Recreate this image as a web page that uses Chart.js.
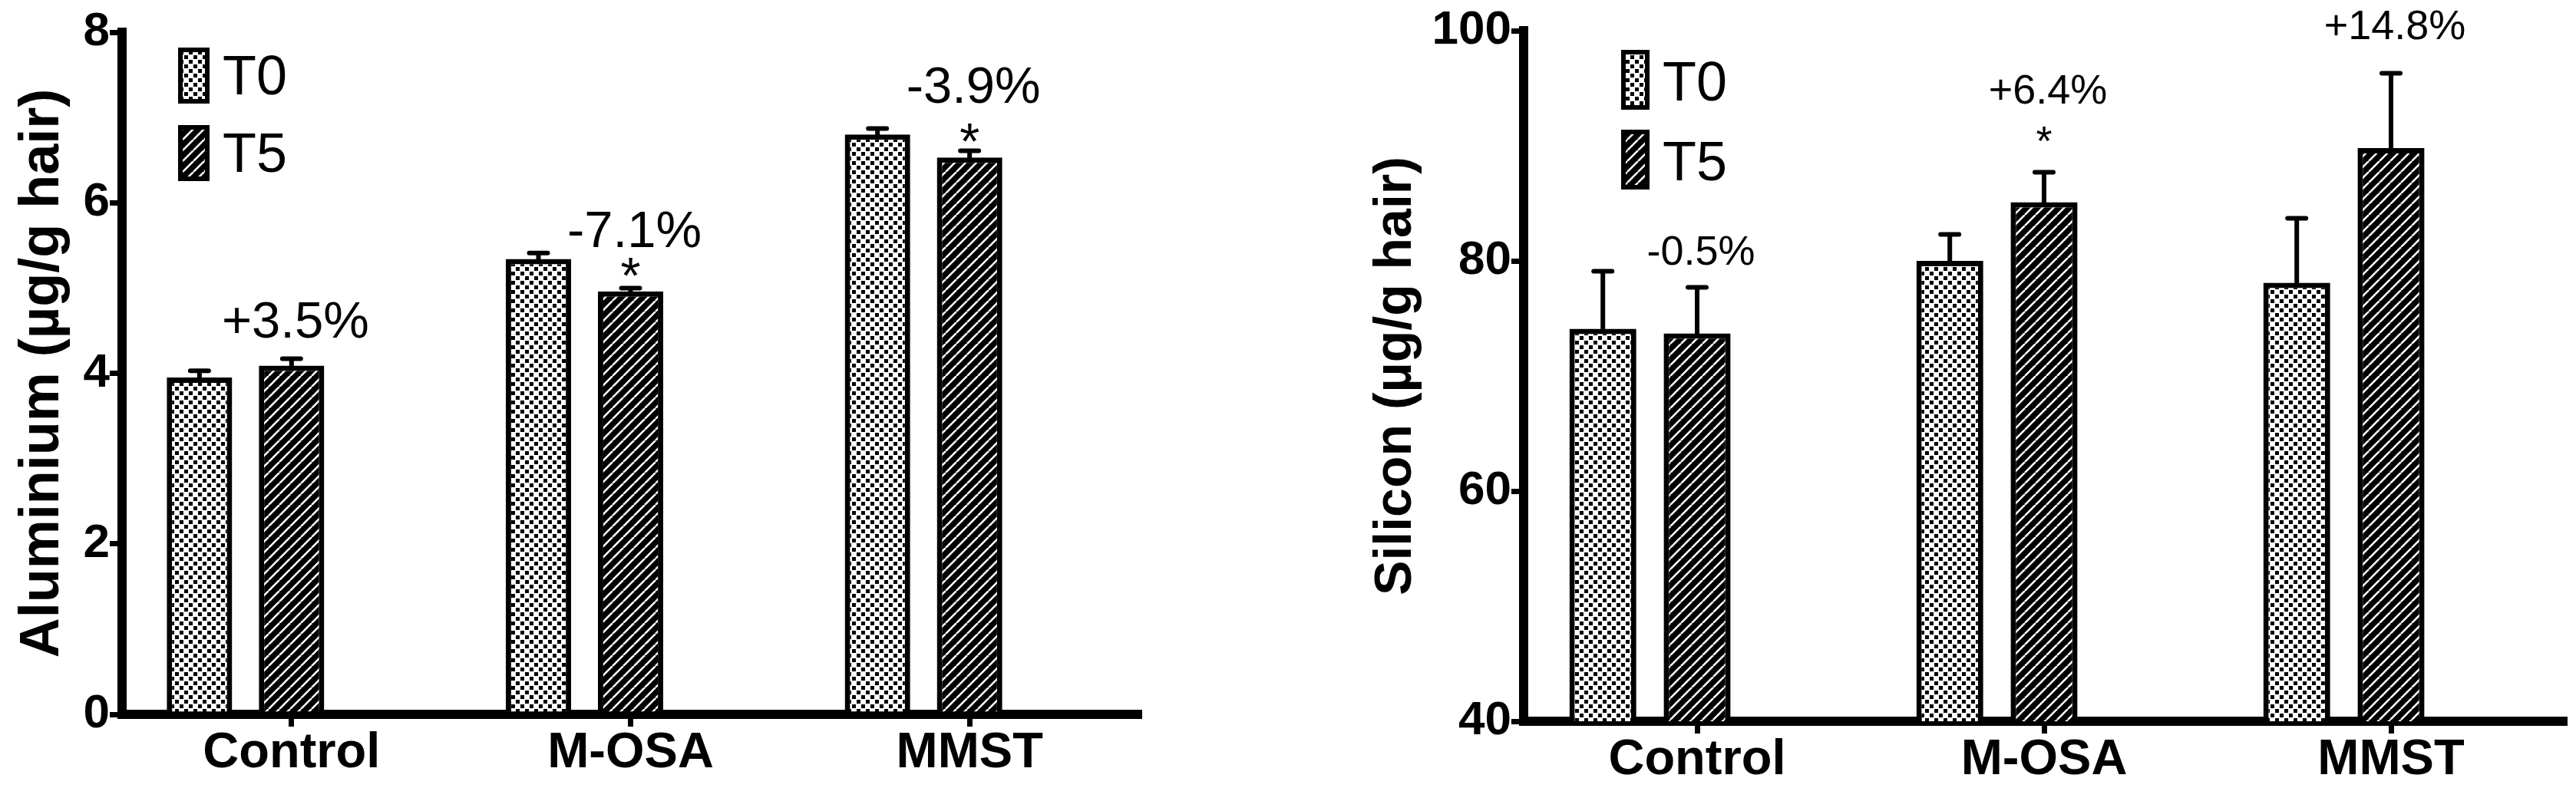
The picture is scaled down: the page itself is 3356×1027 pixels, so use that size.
<!DOCTYPE html>
<html>
<head>
<meta charset="utf-8">
<script src="https://cdn.jsdelivr.net/npm/chart.js@4.4.1/dist/chart.umd.min.js"></script>
<style>
  html, body { margin: 0; padding: 0; background: #fff; }
  #wrap { display: flex; width: 3356px; height: 1027px; }
  canvas { display: block; }
</style>
</head>
<body>
<div id="wrap">
  <canvas id="alChart" width="1560" height="1027"></canvas>
  <canvas id="siChart" width="1796" height="1027"></canvas>
</div>
<script>
const FONT = "'Liberation Sans', Arial, sans-serif";

const groups = ['Control', 'M-OSA', 'MMST'];
const seriesNames = ['T0', 'T5'];

// aluminium panel
const alT0 = [3.95, 5.34, 6.80];
const alT0Err = [0.08, 0.07, 0.07];
const alT5 = [4.09, 4.96, 6.53];
const alT5Err = [0.08, 0.04, 0.08];
const alChange = ['+3.5%', '-7.1%', '-3.9%'];
const alChangeAt = [4.42, 5.48, 7.17];
const alStarAt = [null, 5.215, 6.785];
const alTicks = [0, 2, 4, 6, 8];

// silicon panel
const siT0 = [74.1, 80.0, 78.1];
const siT0Err = [5.0, 2.3, 5.6];
const siT5 = [73.7, 85.1, 89.8];
const siT5Err = [4.0, 2.6, 6.5];
const siChange = ['-0.5%', '+6.4%', '+14.8%'];
const siChangeAt = [79.67, 93.69, 99.3];
const siStarAt = [null, 90.8, null];
const siTicks = [40, 60, 80, 100];

function makePatterns(ctx) {
  const d = document.createElement('canvas');
  d.width = 12; d.height = 12;
  const g = d.getContext('2d');
  g.fillStyle = '#fff';
  g.fillRect(0, 0, 12, 12);
  g.fillStyle = '#000';
  g.fillRect(0, 0, 5, 5);
  g.fillRect(6, 6, 5, 5);

  const h = document.createElement('canvas');
  h.width = 14; h.height = 14;
  const k = h.getContext('2d');
  k.fillStyle = '#000';
  k.fillRect(0, 0, 14, 14);
  k.strokeStyle = '#fff';
  k.lineWidth = 2.6;
  [-14, 0, 14].forEach(o => {
    k.beginPath();
    k.moveTo(o, 14);
    k.lineTo(o + 14, 0);
    k.stroke();
  });

  return {
    dots: ctx.createPattern(d, 'repeat'),
    hatch: ctx.createPattern(h, 'repeat')
  };
}

const errorBars = {
  id: 'errorBars',
  afterDatasetsDraw(chart) {
    const ctx = chart.ctx;
    const y = chart.scales.y;
    ctx.save();
    ctx.strokeStyle = '#000';
    ctx.lineWidth = 6;
    ctx.lineCap = 'round';
    [0, 1].forEach(di => {
      const ds = chart.data.datasets[di];
      chart.getDatasetMeta(di).data.forEach((bar, i) => {
        const top = y.getPixelForValue(ds.data[i] + ds.errors[i]);
        ctx.beginPath();
        ctx.moveTo(bar.x, bar.y);
        ctx.lineTo(bar.x, top);
        ctx.moveTo(bar.x - 12, top);
        ctx.lineTo(bar.x + 12, top);
        ctx.stroke();
      });
    });
    ctx.restore();
  }
};

const notes = {
  id: 'notes',
  afterDatasetsDraw(chart, args, opts) {
    const ctx = chart.ctx;
    const y = chart.scales.y;
    const meta = chart.getDatasetMeta(1);
    ctx.save();
    ctx.fillStyle = '#000';
    ctx.textAlign = 'center';
    ctx.textBaseline = 'alphabetic';
    ctx.font = opts.size + 'px ' + FONT;
    opts.labels.forEach((t, i) => {
      const x = meta.data[i].x;
      ctx.fillText(t, x + 5, y.getPixelForValue(opts.labelAt[i]));
      if (opts.starAt[i] !== null) {
        ctx.fillText('*', x, y.getPixelForValue(opts.starAt[i]) + 0.45 * opts.size);
      }
    });
    ctx.restore();
  }
};

const key = {
  id: 'key',
  afterDraw(chart, args, opts) {
    const { ctx, chartArea } = chart;
    ctx.save();
    ctx.lineWidth = 6;
    ctx.strokeStyle = '#000';
    ctx.font = '72px ' + FONT;
    ctx.textBaseline = 'alphabetic';
    ctx.textAlign = 'left';
    chart.data.datasets.slice(0, 2).forEach((ds, i) => {
      const bx = chartArea.left + opts.dx;
      const by = chartArea.top + opts.dy + i * opts.gap;
      ctx.fillStyle = ds.backgroundColor;
      ctx.fillRect(bx, by, opts.w, opts.h);
      ctx.strokeRect(bx + 3, by + 3, opts.w - 6, opts.h - 6);
      ctx.fillStyle = '#000';
      ctx.fillText(ds.label, bx + opts.w + 17, by + opts.h - 12);
    });
    ctx.restore();
  }
};

function buildChart(id, cfg) {
  const ctx = document.getElementById(id).getContext('2d');
  const pats = makePatterns(ctx);
  const axisBorder = { display: true, color: '#000', width: 12 };
  const tickGrid = {
    display: true,
    drawOnChartArea: false,
    drawTicks: true,
    tickLength: 16,
    tickWidth: 7,
    lineWidth: 7,
    tickColor: '#000',
    color: '#000'
  };

  return new Chart(ctx, {
    type: 'bar',
    data: {
      labels: groups,
      datasets: [
        { label: seriesNames[0], data: cfg.t0, errors: cfg.t0Err, backgroundColor: pats.dots },
        { label: seriesNames[1], data: cfg.t5, errors: cfg.t5Err, backgroundColor: pats.hatch },
        // empty third slot so the T5 bar sits on the category tick, as in the figure
        { label: '', data: groups.map(() => null), errors: [] }
      ]
    },
    plugins: [errorBars, notes, key],
    options: {
      responsive: false,
      devicePixelRatio: 1,
      animation: false,
      layout: { padding: cfg.padding },
      datasets: {
        bar: {
          categoryPercentage: 0.815,
          barPercentage: 0.71,
          borderWidth: 7,
          borderColor: '#000',
          borderSkipped: 'bottom'
        }
      },
      plugins: {
        legend: { display: false },
        tooltip: { enabled: false },
        notes: { labels: cfg.change, labelAt: cfg.changeAt, starAt: cfg.starAt, size: cfg.noteSize },
        key: cfg.key
      },
      scales: {
        x: {
          offset: true,
          grid: Object.assign({ offset: false }, tickGrid),
          border: axisBorder,
          ticks: {
            color: '#000',
            font: { family: FONT, size: 65, weight: 'bold' },
            padding: -4,
            maxRotation: 0,
            autoSkip: false
          },
          afterFit: s => { s.height = cfg.xHeight; }
        },
        y: {
          min: cfg.ticks[0],
          max: cfg.ticks[cfg.ticks.length - 1],
          afterBuildTicks: s => { s.ticks = cfg.ticks.map(v => ({ value: v })); },
          grid: tickGrid,
          border: axisBorder,
          ticks: {
            color: '#000',
            font: { family: FONT, size: 62, weight: 'bold' },
            padding: 0
          },
          title: {
            display: true,
            text: cfg.title,
            color: '#000',
            font: { family: FONT, size: cfg.titleSize, weight: 'bold' },
            padding: { top: 13, bottom: 0 }
          },
          afterFit: s => { s.width = cfg.yWidth; }
        }
      }
    }
  });
}

buildChart('alChart', {
  t0: alT0, t0Err: alT0Err, t5: alT5, t5Err: alT5Err,
  change: alChange, changeAt: alChangeAt, starAt: alStarAt,
  ticks: alTicks,
  title: 'Aluminium (µg/g hair)',
  titleSize: 72,
  noteSize: 67,
  padding: { left: 0, right: 76, top: 42, bottom: 0 },
  yWidth: 159,
  xHeight: 96,
  key: { dx: 73, dy: 20, gap: 101, w: 41, h: 73 }
});

buildChart('siChart', {
  t0: siT0, t0Err: siT0Err, t5: siT5, t5Err: siT5Err,
  change: siChange, changeAt: siChangeAt, starAt: siStarAt,
  ticks: siTicks,
  title: 'Silicon (µg/g hair)',
  titleSize: 68,
  noteSize: 54,
  padding: { left: 205, right: 15, top: 40, bottom: 0 },
  yWidth: 220,
  xHeight: 87,
  key: { dx: 127, dy: 25, gap: 104, w: 37, h: 78 }
});
</script>
</body>
</html>
